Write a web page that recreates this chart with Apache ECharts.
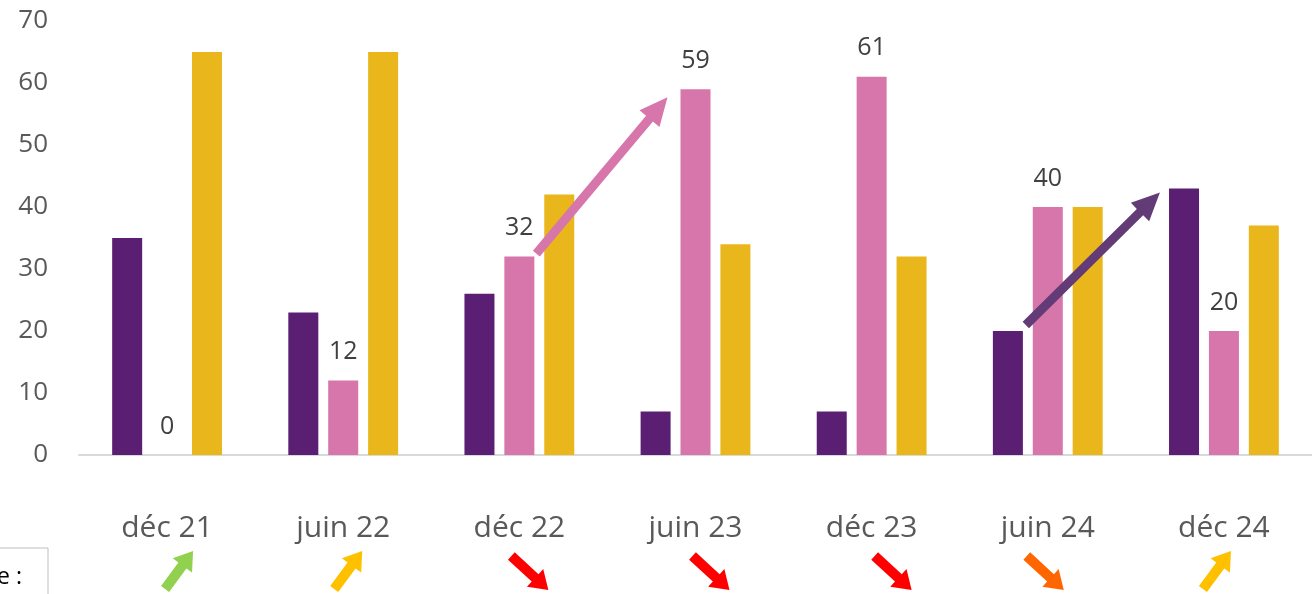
<!DOCTYPE html>
<html><head><meta charset="utf-8">
<script src="https://cdn.jsdelivr.net/npm/echarts@6/dist/echarts.min.js"></script>
<style>html,body{margin:0;padding:0;background:#fff;}#c{width:1312px;height:594px;}</style>
</head><body><div id="c"></div>
<script>
const categories = ['déc 21','juin 22','déc 22','juin 23','déc 23','juin 24','déc 24'];
const seriesA = [35, 23, 26, 7, 7, 20, 43];   // violet
const seriesB = [0, 12, 32, 59, 61, 40, 20];  // rose
const seriesC = [65, 65, 42, 34, 32, 40, 37]; // or
const yTicks = [0, 10, 20, 30, 40, 50, 60, 70];
const trends = ['up','up','down','down','down','down','up'];
const trendColors = ['#92d050','#ffc000','#ff0000','#ff0000','#ff0000','#ff6600','#ffc000'];
const trendDx = [-2,-9,-8,-3,3,-21,-21];

const COL_A = '#5a1e73', COL_B = '#d676aa', COL_C = '#e9b71b';
const FONT = 'Open Sans';

const chart = echarts.init(document.getElementById('c'));
chart.setOption({
  animation: false,
  backgroundColor: '#fff',
  grid: { left: 79, top: 21, width: 1239, bottom: 139, containLabel: false },
  xAxis: {
    type: 'category', data: categories,
    axisLine: { lineStyle: { color: '#d9d9d9', width: 2 } },
    axisTick: { show: false },
    axisLabel: { color: '#595959', fontSize: 30, fontFamily: FONT, margin: 58 }
  },
  yAxis: {
    type: 'value', min: yTicks[0], max: yTicks[yTicks.length-1], interval: 10,
    axisLine: { show: false }, axisTick: { show: false }, splitLine: { show: false },
    axisLabel: { color: '#595959', fontSize: 26, fontFamily: FONT, margin: 31 }
  },
  series: [
    { type: 'bar', data: seriesA, barWidth: 30, barGap: '33%', itemStyle: { color: COL_A } },
    { type: 'bar', data: seriesB, barWidth: 30, barGap: '33%', itemStyle: { color: COL_B },
      label: { show: true, position: 'top', distance: 16, color: '#404040', fontSize: 25, fontFamily: FONT } },
    { type: 'bar', data: seriesC, barWidth: 30, barGap: '33%', itemStyle: { color: COL_C } }
  ]
});

function arrowPts(x0, y0, x1, y1, w, L, H) {
  const dx = x1 - x0, dy = y1 - y0, len = Math.hypot(dx, dy);
  const ux = dx / len, uy = dy / len, nx = -uy, ny = ux;
  const bx = x1 - ux * L, by = y1 - uy * L;
  return [
    [x0 + nx * w / 2, y0 + ny * w / 2],
    [bx + nx * w / 2, by + ny * w / 2],
    [bx + nx * H, by + ny * H],
    [x1, y1],
    [bx - nx * H, by - ny * H],
    [bx - nx * w / 2, by - ny * w / 2],
    [x0 - nx * w / 2, y0 - ny * w / 2]
  ];
}
const px = (i, v) => chart.convertToPixel({ xAxisIndex: 0, yAxisIndex: 0 }, [i, v]);

const g = [];
trends.forEach((t, i) => {
  const c = px(i, 0)[0];
  const x0 = c + trendDx[i];
  let pts;
  if (t === 'up') pts = arrowPts(x0, 589, x0 + 28, 551, 10, 18, 12);
  else pts = arrowPts(x0, 556, x0 + 37, 590, 10, 18, 12);
  g.push({ type: 'polygon', shape: { points: pts }, style: { fill: trendColors[i] }, z: 10 });
});
{
  const a = px(2, seriesB[2]), b = px(3, seriesB[3]);
  g.push({ type: 'polygon', shape: { points: arrowPts(a[0] + 17, a[1] - 3, b[0] - 28, b[1] + 8, 9, 28, 13) },
    style: { fill: COL_B }, z: 10 });
}
{
  const a = px(5, seriesA[5]), b = px(6, seriesA[6]);
  g.push({ type: 'polygon', shape: { points: arrowPts(a[0] - 22, a[1] - 6, b[0] - 64, b[1] + 4, 9, 28, 13) },
    style: { fill: '#633b77' }, z: 10 });
}
g.push({ type: 'rect', shape: { x: -5, y: 548, width: 53, height: 60 },
  style: { fill: '#fff', stroke: '#bfbfbf', lineWidth: 1 }, z: 10 });
g.push({ type: 'text', x: -3, y: 577, style: { text: 'e :', fill: '#000', fontSize: 23, fontFamily: FONT, verticalAlign: 'middle' }, z: 11 });

chart.setOption({ graphic: g });
</script></body></html>
